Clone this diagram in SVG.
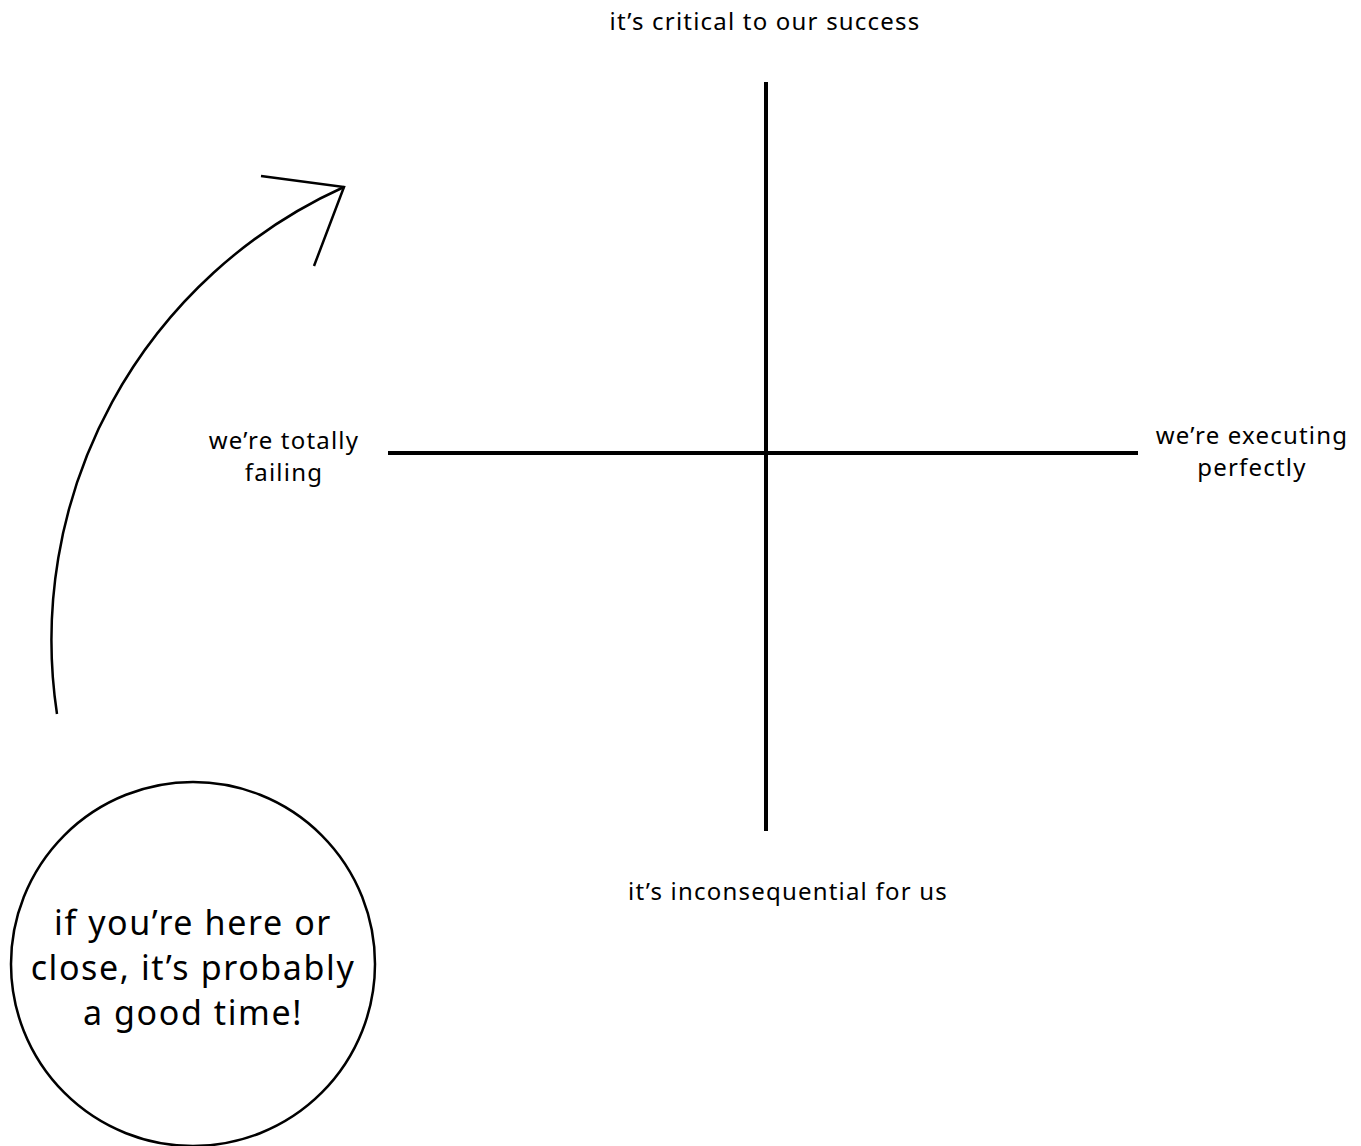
<svg xmlns="http://www.w3.org/2000/svg" width="1361" height="1146" viewBox="0 0 1361 1146">
<style>
.t{font-family:"Noto Sans","DejaVu Sans",sans-serif;font-size:24px;letter-spacing:1.2px;fill:#000;text-anchor:middle}
.big{font-size:34px;letter-spacing:1.6px}
.ax{stroke:#000;stroke-width:4;fill:none}
.thin{stroke:#000;stroke-width:2.5;fill:none}
</style>
<rect width="1361" height="1146" fill="#fff"/>
<g id="connectors">
<line class="ax" x1="766" y1="82" x2="766" y2="831"/>
<line class="ax" x1="388" y1="453" x2="1138" y2="453"/>
<path class="thin" d="M57,714 A497,497 0 0 1 344,187"/>
<path class="thin" d="M261,176 L344,187 L314,266"/>
</g>
<g id="top"><text class="t" x="765" y="30">it’s critical to our success</text></g>
<g id="bottom"><text class="t" x="788" y="900">it’s inconsequential for us</text></g>
<g id="left"><text class="t" x="284" y="449">we’re totally</text><text class="t" x="284" y="481">failing</text></g>
<g id="right"><text class="t" x="1252" y="444">we’re executing</text><text class="t" x="1252" y="476">perfectly</text></g>
<g id="circle">
<circle cx="193" cy="964" r="182" fill="#fff" stroke="#000" stroke-width="2.5"/>
<text class="t big" x="193" y="935">if you’re here or</text>
<text class="t big" x="193" y="980">close, it’s probably</text>
<text class="t big" x="193" y="1025">a good time!</text>
</g>
</svg>
